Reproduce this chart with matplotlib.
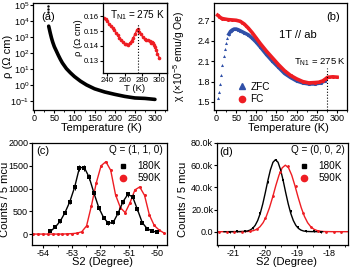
import matplotlib
matplotlib.use('Agg')
import matplotlib.pyplot as plt
from matplotlib.ticker import MultipleLocator, FuncFormatter, LogLocator, NullLocator
from matplotlib.lines import Line2D

plt.rcParams['font.family'] = ['Liberation Sans', 'DejaVu Sans']
plt.rcParams['mathtext.default'] = 'regular'
plt.rcParams['axes.linewidth'] = 0.9

RED = '#ee1d23'
BLUE = '#3050a8'

# (a) resistivity vs temperature
T_a = [36, 38, 40, 43, 46, 50, 55, 60, 65, 70, 80, 90, 100, 115, 130, 150, 175, 200, 225, 250, 275, 300]
rho_a = [5000, 3000, 1800, 900, 500, 260, 140, 75, 42, 25, 11, 6, 3.5, 1.8, 1.05, 0.6, 0.38, 0.27, 0.2, 0.16, 0.15, 0.13]
T_a_top = [34, 34.5, 35]
rho_a_top = [9e4, 6e4, 4e4]

# inset
T_in = [236, 238, 240, 242, 244, 246, 248, 250, 252, 254, 256, 258, 260, 262, 264, 266, 268, 270, 272, 274, 275,
        277, 279, 281, 283, 285, 287, 289, 291, 292, 293, 294, 295, 296, 298, 300]
rho_in = [0.159, 0.158, 0.1565, 0.155, 0.1535, 0.152, 0.1505, 0.149, 0.147, 0.1455, 0.144, 0.1425, 0.1415, 0.141,
          0.1408, 0.1418, 0.1435, 0.1455, 0.148, 0.1505, 0.1512, 0.1495, 0.148, 0.146, 0.1448, 0.1442, 0.1438,
          0.1432, 0.142, 0.1425, 0.1418, 0.1405, 0.139, 0.1375, 0.1348, 0.132]

# (b) susceptibility
T_zfc = [4, 7, 10, 13, 16, 19, 22, 25, 28, 32, 36, 40, 45, 50, 55, 60, 70, 80, 90, 100, 110, 125, 140, 155, 170,
         185, 200, 215, 230, 245, 260, 270]
chi_zfc = [1.56, 1.64, 1.76, 1.90, 2.04, 2.17, 2.28, 2.37, 2.44, 2.50, 2.54, 2.56, 2.575, 2.575, 2.565, 2.55, 2.52,
           2.49, 2.44, 2.38, 2.31, 2.20, 2.10, 2.01, 1.92, 1.86, 1.81, 1.78, 1.765, 1.765, 1.78, 1.81]
T_fc = [4, 8, 12, 16, 20, 25, 30, 40, 50, 60, 65, 70, 75, 80, 90, 100, 110, 125, 140, 155, 170, 185, 200, 215, 230,
        245, 255, 265, 272, 276, 280, 290, 300]
chi_fc = [2.78, 2.76, 2.74, 2.73, 2.725, 2.72, 2.715, 2.71, 2.705, 2.69, 2.67, 2.65, 2.62, 2.59, 2.52, 2.44, 2.36,
          2.25, 2.15, 2.05, 1.96, 1.89, 1.84, 1.80, 1.78, 1.785, 1.79, 1.81, 1.84, 1.86, 1.865, 1.87, 1.865]

# (c) Q = (1,1,0)
s2_c_180 = [-53.75, -53.58, -53.41, -53.24, -53.07, -52.90, -52.73, -52.56, -52.39, -52.22, -52.05, -51.88, -51.71,
            -51.54, -51.37, -51.20, -51.03, -50.86, -50.69, -50.52, -50.35, -50.18, -50.01]
cnt_c_180 = [60, 155, 280, 470, 710, 1030, 1460, 1460, 1250, 900, 580, 360, 235, 260, 460, 710, 870, 820, 540, 250,
             120, 70, 40]
err_c_180 = [25, 30, 35, 40, 45, 55, 65, 65, 60, 50, 45, 35, 30, 30, 40, 45, 50, 50, 40, 30, 25, 20, 15]
s2_c_590 = [-54.35, -54.18, -54.01, -53.84, -53.67, -53.50, -53.33, -53.16, -52.99, -52.82, -52.65, -52.48, -52.31,
            -52.14, -51.97, -51.80, -51.63, -51.46, -51.29, -51.12, -50.95, -50.78, -50.61, -50.44, -50.27, -50.10,
            -49.93, -49.76]
cnt_c_590 = [0, 0, 0, 0, 0, 0, 0, 5, 10, 20, 50, 180, 620, 1120, 1500, 1590, 1400, 860, 580, 470, 690, 970, 1035,
             850, 420, 190, 90, 25]

# (d) Q = (0,0,2)
s2_d_180 = [-21.12, -20.88, -20.64, -20.40, -20.16, -19.92, -19.68, -19.44, -19.20, -18.96, -18.72, -18.48, -18.24]
cnt_d_180 = [0, 200, 800, 3500, 17000, 45000, 65000, 47000, 19000, 4000, 800, 200, 0]
s2_d_590 = [-21.45, -21.21, -20.97, -20.73, -20.49, -20.25, -20.01, -19.77, -19.53, -19.29, -19.05, -18.81, -18.57,
            -18.33, -18.09, -17.85, -17.61]
cnt_d_590 = [0, 0, 0, 100, 600, 2800, 12000, 32000, 54000, 59000, 41000, 17000, 4500, 800, 100, 0, 0]
# fitted curves
fit_d_180_x = [-21.3, -20.8, -20.64, -20.56, -20.48, -20.40, -20.32, -20.24, -20.16, -20.08, -20.00, -19.92, -19.84,
               -19.76, -19.68, -19.60, -19.52, -19.44, -19.36, -19.28, -19.20, -19.12, -19.04, -18.96, -18.88,
               -18.80, -18.72, -18.56, -18.2]
fit_d_180_y = [0, 100, 270, 650, 1450, 2990, 5700, 10100, 16500, 25100, 35300, 46200, 55800, 62600, 65000, 62600,
               55800, 46200, 35300, 25100, 16500, 10100, 5700, 2990, 1450, 650, 270, 80, 0]
fit_d_590_x = [-21.5, -20.8, -20.57, -20.47, -20.37, -20.27, -20.17, -20.07, -19.97, -19.87, -19.77, -19.67, -19.57,
               -19.47, -19.37, -19.27, -19.17, -19.07, -18.97, -18.87, -18.77, -18.67, -18.57, -18.47, -18.37,
               -18.27, -18.17, -17.9, -17.4]
fit_d_590_y = [0, 60, 170, 430, 1010, 2190, 4410, 8120, 13800, 21600, 31200, 41600, 51000, 57600, 60000, 57600,
               51000, 41600, 31200, 21600, 13800, 8120, 4410, 2190, 1010, 430, 170, 20, 0]

W, H = 350, 269
fig = plt.figure(figsize=(3.5, 2.69), dpi=100)


def box(l, r, t, b):
    return [l / W, (H - b) / H, (r - l) / W, (b - t) / H]


def style(ax, size=6.5):
    ax.tick_params(which='both', direction='out', labelsize=size, pad=0.8)
    ax.tick_params(which='major', length=2, width=0.8)
    ax.tick_params(which='minor', length=1.2, width=0.6)


LAB = 8

# ---- (a)
axa = fig.add_axes(box(33, 167, 3, 110))
axa.semilogy(T_a, rho_a, color='k', lw=2.6, solid_capstyle='round')
axa.plot(T_a_top, rho_a_top, 'k.', ms=1.5)
axa.set_xlim(-3, 330)
axa.set_ylim(10 ** -1.55, 10 ** 5.15)
axa.xaxis.set_major_locator(MultipleLocator(50))
axa.xaxis.set_minor_locator(MultipleLocator(25))
axa.yaxis.set_major_locator(LogLocator(base=10, numticks=10))
axa.yaxis.set_minor_locator(NullLocator())
style(axa)
axa.set_xlabel('Temperature (K)', fontsize=LAB)
axa.xaxis.set_label_coords(0.51, -0.125)
axa.set_ylabel('ρ (Ω cm)', fontsize=LAB)
axa.yaxis.set_label_coords(-0.15, 0.5)
axa.text(0.112, 0.87, '(a)', transform=axa.transAxes, fontsize=LAB, ha='center', va='center')

axi = fig.add_axes(box(103, 167, 3, 73))
axi.plot(T_in, rho_in, '-', color=RED, lw=1.0, marker='o', ms=1.6, mec=RED, mfc=RED)
axi.set_xlim(235, 309)
axi.set_ylim(0.1216, 0.169)
axi.axvline(275, ymax=(0.155 - 0.1216) / (0.169 - 0.1216), color='k', ls=':', lw=0.8)
axi.xaxis.set_major_locator(MultipleLocator(20))
axi.yaxis.set_major_locator(MultipleLocator(0.01))
axi.yaxis.set_major_formatter(FuncFormatter(lambda v, p: '%.2f' % v))
style(axi, 5.6)
axi.set_xlabel('T (K)', fontsize=6.8, labelpad=0)
axi.set_ylabel('ρ (Ω cm)', fontsize=6.8, labelpad=1)
axi.text(0.97, 0.83, r'T$_{N1}$ = 275 K', transform=axi.transAxes, fontsize=7.2, ha='right', va='center')

# ---- (b)
axb = fig.add_axes(box(214, 347, 3, 110))
axb.plot(T_zfc[9:], chi_zfc[9:], '-', color=BLUE, lw=2.6)
axb.plot(T_zfc, chi_zfc, '^', color=BLUE, ms=2.2, mew=0)
axb.plot(T_fc, chi_fc, '-', color=RED, lw=2.6)
axb.plot(T_fc, chi_fc, 'o', color=RED, ms=2.2, mew=0)
axb.set_xlim(-5, 325)
axb.set_ylim(1.38, 2.96)
axb.axvline(275, ymax=(2.0 - 1.38) / (2.96 - 1.38), color='k', ls=':', lw=0.8)
axb.xaxis.set_major_locator(MultipleLocator(50))
axb.xaxis.set_minor_locator(MultipleLocator(25))
axb.yaxis.set_major_locator(MultipleLocator(0.3))
axb.yaxis.set_major_formatter(FuncFormatter(lambda v, p: '%.1f' % v))
style(axb)
axb.set_xlabel('Temperature (K)', fontsize=LAB)
axb.xaxis.set_label_coords(0.56, -0.125)
axb.set_ylabel(r'χ (×10$^{-5}$ emu/g Oe)', fontsize=7.5)
axb.yaxis.set_label_coords(-0.2, 0.5)
axb.text(0.895, 0.87, '(b)', transform=axb.transAxes, fontsize=LAB, ha='center', va='center')
axb.text(0.628, 0.70, '1T // ab', transform=axb.transAxes, fontsize=LAB, ha='center', va='center')
axb.text(0.99, 0.45, r'T$_{N1}$ = 275 K', transform=axb.transAxes, fontsize=6.8, ha='right', va='center')
hb = [Line2D([], [], ls='', marker='^', color=BLUE, ms=4.5),
      Line2D([], [], ls='', marker='o', color=RED, ms=4.5)]
axb.legend(hb, ['ZFC', 'FC'], loc='lower left', bbox_to_anchor=(0.13, 0.0), frameon=False, fontsize=7.2,
           handlelength=1.0, handletextpad=0.3, labelspacing=0.25, borderaxespad=0.2)

# ---- (c)
axc = fig.add_axes(box(32, 167, 143, 245))
axc.plot(s2_c_590, cnt_c_590, '-', color=RED, lw=1.0, marker='o', ms=2.2, mew=0)
axc.errorbar(s2_c_180, cnt_c_180, yerr=err_c_180, fmt='-s', color='k', lw=1.0, ms=2.2, mew=0, elinewidth=0.7,
             capsize=1.2, capthick=0.7)
axc.set_xlim(-54.4, -49.65)
axc.set_ylim(-240, 2000)
axc.xaxis.set_major_locator(MultipleLocator(1))
axc.xaxis.set_minor_locator(MultipleLocator(0.5))
axc.yaxis.set_major_locator(MultipleLocator(500))
axc.xaxis.set_major_formatter(FuncFormatter(lambda v, p: '%d' % v))
style(axc)
axc.set_xlabel('S2 (Degree)', fontsize=LAB)
axc.xaxis.set_label_coords(0.52, -0.12)
axc.set_ylabel('Counts / 5 mcu', fontsize=LAB)
axc.yaxis.set_label_coords(-0.165, 0.45)
axc.text(0.081, 0.92, '(c)', transform=axc.transAxes, fontsize=LAB, ha='center', va='center')
axc.text(0.97, 0.935, 'Q = (1, 1, 0)', transform=axc.transAxes, fontsize=7.2, ha='right', va='center')
hc = [Line2D([], [], ls='', marker='s', color='k', ms=3.5),
      Line2D([], [], ls='', marker='o', color=RED, ms=4.5)]
axc.legend(hc, ['180K', '590K'], loc='upper right', bbox_to_anchor=(1.0, 0.88), frameon=False, fontsize=7.2,
           handlelength=1.0, handletextpad=0.9, labelspacing=0.2, borderaxespad=0.2)

# ---- (d)
axd = fig.add_axes(box(217, 348, 143, 245))
axd.plot(fit_d_590_x, fit_d_590_y, '-', color=RED, lw=1.0)
axd.errorbar(s2_d_590, cnt_d_590, yerr=800, fmt='o', color=RED, ms=2.0, mew=0, elinewidth=0.7,
             capsize=0.8, capthick=0.6)
axd.plot(fit_d_180_x, fit_d_180_y, '-', color='k', lw=1.0)
axd.errorbar(s2_d_180, cnt_d_180, yerr=800, fmt='s', color='k', ms=2.0, mew=0, elinewidth=0.7,
             capsize=0.8, capthick=0.6)
axd.set_xlim(-21.52, -17.4)
axd.set_ylim(-12000, 80000)
axd.xaxis.set_major_locator(MultipleLocator(1))
axd.xaxis.set_minor_locator(MultipleLocator(0.5))
axd.yaxis.set_major_locator(MultipleLocator(20000))
axd.xaxis.set_major_formatter(FuncFormatter(lambda v, p: '%d' % v))
axd.yaxis.set_major_formatter(FuncFormatter(lambda v, p: '0.0' if abs(v) < 1 else '%.1fk' % (v / 1000)))
style(axd)
axd.set_xlabel('S2 (Degree)', fontsize=LAB)
axd.xaxis.set_label_coords(0.53, -0.12)
axd.set_ylabel('Counts / 5 mcu', fontsize=LAB)
axd.yaxis.set_label_coords(-0.22, 0.45)
axd.text(0.07, 0.91, '(d)', transform=axd.transAxes, fontsize=LAB, ha='center', va='center')
axd.text(0.975, 0.935, 'Q = (0, 0, 2)', transform=axd.transAxes, fontsize=7.2, ha='right', va='center')
hd = [Line2D([], [], ls='', marker='s', color='k', ms=3.5),
      Line2D([], [], ls='', marker='o', color=RED, ms=4.5)]
axd.legend(hd, ['180K', '590K'], loc='upper right', bbox_to_anchor=(1.0, 0.88), frameon=False, fontsize=7.2,
           handlelength=1.0, handletextpad=0.9, labelspacing=0.2, borderaxespad=0.2)

fig.savefig('out.png', dpi=100)
